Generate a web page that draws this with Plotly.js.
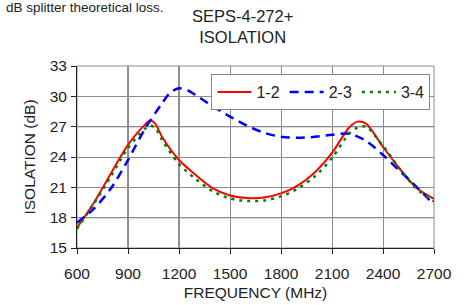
<!DOCTYPE html>
<html>
<head>
<meta charset="utf-8">
<script src="https://cdn.plot.ly/plotly-3.0.1.min.js"></script>
<style>html,body{margin:0;padding:0;background:#fff;}#chart{width:467px;height:305px;}</style>
</head>
<body>
<div id="chart"></div>
<script>
// Frequencies (MHz)
const freq = [600, 700, 800, 900, 1000, 1030, 1060, 1100, 1200, 1300, 1400, 1500, 1600, 1700, 1800, 1900, 2000, 2100, 2200, 2250, 2300, 2400, 2500, 2600, 2700];
// Isolation 1-2 (dB)
const iso12 = [17.0, 19.5, 22.4, 25.2, 27.2, 27.6, 27.3, 26.0, 23.7, 22.2, 20.9, 20.2, 19.95, 20.0, 20.4, 21.2, 22.5, 24.4, 26.9, 27.5, 27.3, 25.0, 22.8, 20.9, 19.85];
// Isolation 2-3 (dB)
const freq23 = [600, 700, 800, 900, 1000, 1100, 1150, 1200, 1250, 1300, 1400, 1500, 1600, 1700, 1800, 1900, 2000, 2100, 2200, 2300, 2400, 2500, 2600, 2700];
const iso23 = [17.5, 18.9, 20.9, 23.7, 26.8, 29.3, 30.4, 30.8, 30.6, 30.1, 29.0, 28.0, 27.1, 26.4, 26.0, 25.9, 26.0, 26.2, 26.3, 25.6, 24.2, 22.6, 21.0, 19.3];
// Isolation 3-4 (dB)
const iso34 = [16.9, 19.4, 22.1, 24.9, 26.8, 27.1, 26.9, 25.7, 23.3, 21.8, 20.6, 19.9, 19.65, 19.7, 20.1, 20.9, 22.1, 23.9, 26.3, 26.9, 27.0, 25.1, 22.8, 20.8, 19.6];

const seriesNames = ['1-2', '2-3', '3-4'];
const xTicks = [600, 900, 1200, 1500, 1800, 2100, 2400, 2700];
const yTicks = [15, 18, 21, 24, 27, 30, 33];
const darkGridX = [900, 1200];
const darkGridY = [18, 27];

const FONT = 'Liberation Sans, Arial, sans-serif';

const traces = [
  {x: freq, y: iso12, name: seriesNames[0], mode: 'lines', line: {color: '#ff0000', width: 2, shape: 'spline', smoothing: 0.8}},
  {x: freq23, y: iso23, name: seriesNames[1], mode: 'lines', line: {color: '#0000ff', width: 2.5, dash: '9px,6px', shape: 'spline', smoothing: 0.8}},
  {x: freq, y: iso34, name: seriesNames[2], mode: 'lines', line: {color: '#008000', width: 2.5, dash: '3px,5px', shape: 'spline', smoothing: 0.8}}
];

const shapes = [];
darkGridX.forEach(v => shapes.push({type: 'line', xref: 'x', yref: 'paper', x0: v, x1: v, y0: 0, y1: 1, line: {color: '#222', width: 1}, layer: 'below'}));
darkGridY.forEach(v => shapes.push({type: 'line', xref: 'paper', yref: 'y', x0: 0, x1: 1, y0: v, y1: v, line: {color: '#222', width: 1}, layer: 'below'}));
shapes.push({type: 'rect', xref: 'paper', yref: 'paper', x0: 0, x1: 1, y0: 0, y1: 1, line: {color: '#8c8c8c', width: 1}, layer: 'below'});

const layout = {
  width: 467, height: 305,
  margin: {l: 77, r: 33, t: 66, b: 57},
  paper_bgcolor: '#fff', plot_bgcolor: '#fff',
  font: {family: FONT, color: '#222', size: 16},
  showlegend: true,
  legend: {orientation: 'h', x: 0.99, xanchor: 'right', y: 0.955, yanchor: 'top',
           bgcolor: '#fff', bordercolor: '#888', borderwidth: 1, font: {size: 16, family: FONT},
           itemwidth: 34, tracegroupgap: 0},
  xaxis: {range: [600, 2700], tickvals: xTicks, ticktext: xTicks.map(String), showgrid: true, gridcolor: '#8c8c8c', gridwidth: 1,
          zeroline: false, showline: true, linecolor: '#222', linewidth: 1, mirror: false,
          ticks: 'outside', ticklen: 5, tickcolor: '#222', tickfont: {size: 15.5}, ticklabelstandoff: 6,
          title: {text: 'FREQUENCY (MHz)', font: {size: 15.5}, standoff: 6}},
  yaxis: {range: [15, 33], tickvals: yTicks, showgrid: true, gridcolor: '#8c8c8c', gridwidth: 1,
          zeroline: false, showline: true, linecolor: '#222', linewidth: 1,
          ticks: 'outside', ticklen: 5, tickcolor: '#222', tickfont: {size: 15.5}, ticklabelstandoff: 1,
          title: {text: 'ISOLATION (dB)', font: {size: 15.5}, standoff: 10}},
  shapes: shapes,
  annotations: [
    {text: 'dB splitter theoretical loss.', xref: 'paper', yref: 'paper', x: -0.205, y: 1.32, xanchor: 'left', yanchor: 'middle', showarrow: false, font: {size: 13.5, family: FONT, color: '#222'}},
    {text: 'SEPS-4-272+<br>ISOLATION', xref: 'paper', yref: 'paper', x: 0.464, y: 1.215, xanchor: 'center', yanchor: 'middle', showarrow: false, font: {size: 16.5, family: FONT, color: '#222'}}
  ]
};

Plotly.newPlot('chart', traces, layout, {staticPlot: true, displayModeBar: false});
</script>
</body>
</html>
